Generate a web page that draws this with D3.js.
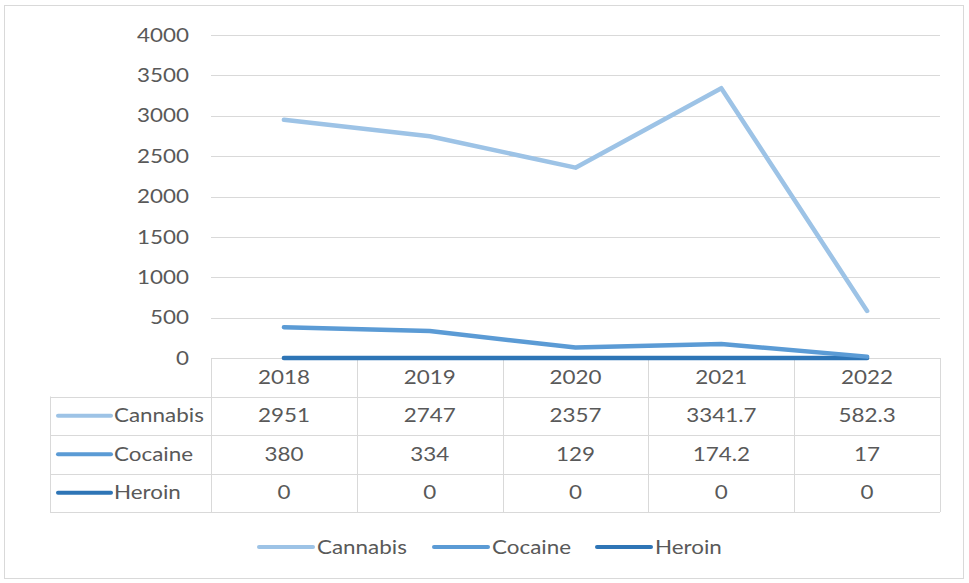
<!DOCTYPE html>
<html>
<head>
<meta charset="utf-8">
<script src="https://cdnjs.cloudflare.com/ajax/libs/d3/7.8.5/d3.min.js"></script>
<style>
  body { margin: 0; background: #fff; }
  svg text { font-family: Lato, "Open Sans", sans-serif; fill: #595959; font-size: 19px; }
</style>
</head>
<body>
<svg id="chart" width="969" height="583"></svg>
<script>
const years = ["2018", "2019", "2020", "2021", "2022"];
const seriesNames = ["Cannabis", "Cocaine", "Heroin"];
const cannabis = [2951, 2747, 2357, 3341.7, 582.3];
const cocaine = [380, 334, 129, 174.2, 17];
const heroin = [0, 0, 0, 0, 0];
const yTicks = [0, 500, 1000, 1500, 2000, 2500, 3000, 3500, 4000];
const colors = ["#9dc3e6", "#5b9bd5", "#2e75b6"];

const series = [cannabis, cocaine, heroin].map((values, i) => ({
  name: seriesNames[i],
  values: values,
  labels: values.map(v => String(v)),
  color: colors[i]
}));

const width = 969, height = 583;
const plotLeft = 211, plotRight = 940, plotTop = 35, plotBottom = 358;
const rowH = 38.5;
const tableLeft = 50;
const stretch = 1.18; // the source text is a bit wider than Lato

const svg = d3.select("#chart");

// place text at (px, py) with a horizontal stretch
function place(sel, px, py) {
  sel.attr("transform", function(d, i) {
    const xx = typeof px === "function" ? px(d, i) : px;
    const yy = typeof py === "function" ? py(d, i) : py;
    return `translate(${xx},${yy}) scale(${stretch},1)`;
  }).attr("dy", "0.35em");
}

// outer frame
svg.append("rect")
  .attr("x", 4.5).attr("y", 5.5)
  .attr("width", width - 10).attr("height", height - 10)
  .attr("fill", "none").attr("stroke", "#d9d9d9");

const x = d3.scaleBand().domain(years).range([plotLeft, plotRight]);
const y = d3.scaleLinear().domain([0, 4000]).range([plotBottom, plotTop]);

// gridlines
svg.append("g")
  .selectAll("line")
  .data(yTicks.filter(d => d > 0))
  .join("line")
  .attr("x1", plotLeft).attr("x2", plotRight)
  .attr("y1", d => Math.round(y(d)) + 0.5)
  .attr("y2", d => Math.round(y(d)) + 0.5)
  .attr("stroke", "#d9d9d9");

// y labels
svg.append("g")
  .selectAll("text")
  .data(yTicks)
  .join("text")
  .attr("text-anchor", "end")
  .text(d => d)
  .call(place, 189, d => y(d));

// data table grid
const tbl = svg.append("g").attr("stroke", "#d9d9d9").attr("fill", "none");
const tableBottom = plotBottom + rowH * 4;
tbl.append("line").attr("x1", plotLeft).attr("x2", plotRight)
  .attr("y1", plotBottom + 0.5).attr("y2", plotBottom + 0.5);
for (let r = 1; r <= 4; r++) {
  const yy = Math.round(plotBottom + rowH * r) + 0.5;
  tbl.append("line").attr("x1", tableLeft).attr("x2", plotRight)
    .attr("y1", yy).attr("y2", yy);
}
years.forEach(yr => {
  const xx = Math.round(x(yr)) + 0.5;
  tbl.append("line").attr("x1", xx).attr("x2", xx)
    .attr("y1", plotBottom).attr("y2", tableBottom);
});
tbl.append("line").attr("x1", plotRight + 0.5).attr("x2", plotRight + 0.5)
  .attr("y1", plotBottom).attr("y2", tableBottom);
tbl.append("line").attr("x1", tableLeft + 0.5).attr("x2", tableLeft + 0.5)
  .attr("y1", plotBottom + rowH).attr("y2", tableBottom);

// header years
svg.append("g")
  .selectAll("text")
  .data(years)
  .join("text")
  .attr("text-anchor", "middle")
  .text(d => d)
  .call(place, d => x(d) + x.bandwidth() / 2, plotBottom + rowH / 2);

// table rows
series.forEach((s, i) => {
  const cy = plotBottom + rowH * (i + 1) + rowH / 2;
  svg.append("line")
    .attr("x1", 58).attr("x2", 111)
    .attr("y1", cy).attr("y2", cy)
    .attr("stroke", s.color).attr("stroke-width", 4)
    .attr("stroke-linecap", "round");
  svg.append("text")
    .text(s.name)
    .call(place, 114, cy);
  svg.append("g")
    .selectAll("text")
    .data(years)
    .join("text")
    .attr("text-anchor", "middle")
    .text((d, j) => s.labels[j])
    .call(place, d => x(d) + x.bandwidth() / 2, cy);
});

// lines
const line = d3.line()
  .x((d, j) => x(years[j]) + x.bandwidth() / 2)
  .y(d => y(d));

series.slice().reverse().forEach(s => {
  svg.append("path")
    .datum(s.values)
    .attr("fill", "none")
    .attr("stroke", s.color)
    .attr("stroke-width", 4.5)
    .attr("stroke-linecap", "round")
    .attr("stroke-linejoin", "round")
    .attr("d", line);
});

// legend
const legendX = [259, 434, 597];
const legendY = 547;
series.forEach((s, i) => {
  svg.append("line")
    .attr("x1", legendX[i]).attr("x2", legendX[i] + 54)
    .attr("y1", legendY).attr("y2", legendY)
    .attr("stroke", s.color).attr("stroke-width", 4)
    .attr("stroke-linecap", "round");
  svg.append("text")
    .text(s.name)
    .call(place, legendX[i] + 58, legendY);
});
</script>
</body>
</html>
